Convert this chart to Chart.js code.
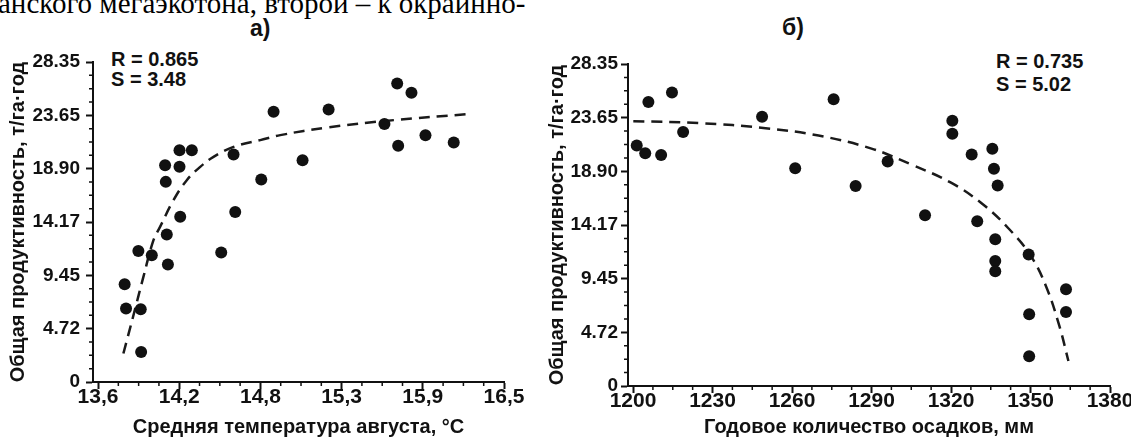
<!DOCTYPE html>
<html>
<head>
<meta charset="utf-8">
<script src="https://cdn.jsdelivr.net/npm/chart.js@4.4.1/dist/chart.umd.min.js"></script>
<style>
  body { margin: 0; width: 1131px; height: 437px; overflow: hidden; background: #fff; position: relative;
         font-family: "Liberation Sans", Arial, sans-serif; color: #111; }
  canvas { position: absolute; top: 0; }
  #left { left: 0; }
  #right { left: 546px; }
  .cut { position: absolute; left: -2px; top: -12px; font-family: "Liberation Serif", serif; font-size: 29px;
         line-height: 30px; white-space: nowrap; word-spacing: 0; color: #000; }
  .panel { position: absolute; font-weight: bold; font-size: 23px; line-height: 22px; }
  .note { position: absolute; font-weight: bold; font-size: 20px; white-space: nowrap; }
</style>
</head>
<body>
<div class="cut">анского мегаэкотона, второй – к окраинно-</div>
<div class="panel" style="left:250px;top:17px">а)</div>
<div class="panel" style="left:782px;top:16px">б)</div>
<div class="note" style="left:111px;top:50px;line-height:19.5px">R = 0.865<br>S = 3.48</div>
<div class="note" style="left:996px;top:50px;line-height:23px">R = 0.735<br>S = 5.02</div>
<canvas id="left" width="546" height="437"></canvas>
<canvas id="right" width="585" height="437"></canvas>
<script>
const INK = "#111";

// а) mean August temperature vs total productivity
const tempX = [13.79, 13.80, 13.905, 13.908, 13.888, 13.984, 14.099, 14.091, 14.187, 14.084,
               14.079, 14.182, 14.182, 14.270, 14.480, 14.580, 14.568, 14.766, 14.854, 15.061,
               15.247, 15.646, 15.737, 15.839, 15.744, 15.939, 16.141];
const tempY = [8.66, 6.51, 6.45, 2.66, 11.61, 11.23, 10.41, 13.07, 14.63, 17.73,
               19.21, 19.06, 20.54, 20.54, 11.47, 15.07, 20.16, 17.94, 23.94, 19.65,
               24.15, 22.85, 26.45, 25.62, 20.92, 21.87, 21.22];
const tempCurveX = [13.781, 13.853, 13.924, 13.996, 14.043, 14.139, 14.234,
                    14.330, 14.425, 14.568, 14.759, 14.902, 15.236, 15.712, 16.237];
const tempCurveY = [2.52, 5.91, 9.31, 12.56, 13.74, 16.11, 17.88,
                    19.06, 19.95, 20.83, 21.43, 21.87, 22.55, 23.20, 23.73];
const tempTicks = [13.6, 14.18, 14.76, 15.34, 15.92, 16.5];
const tempTickLabels = ["13,6", "14,2", "14,8", "15,3", "15,9", "16,5"];

// б) annual precipitation vs total productivity
const precX = [1201.4, 1204.6, 1205.8, 1210.6, 1214.7, 1218.9, 1248.7, 1261.2, 1275.7, 1284.0,
               1296.1, 1310.2, 1320.5, 1320.5, 1327.8, 1329.9, 1335.6, 1336.2, 1337.6, 1336.7,
               1336.7, 1336.7, 1349.3, 1349.5, 1349.5, 1363.4, 1363.4];
const precY = [21.18, 20.50, 25.00, 20.33, 25.85, 22.36, 23.71, 19.18, 25.24, 17.60,
               19.77, 15.04, 23.35, 22.21, 20.39, 14.51, 20.89, 19.12, 17.66, 12.92,
               11.01, 10.10, 11.57, 6.31, 2.61, 8.52, 6.52];
const precCurveX = [1200.1, 1225.0, 1250.0, 1270.0, 1290.0, 1305.0, 1320.0, 1332.0,
                    1342.0, 1350.0, 1356.0, 1361.0, 1364.3];
const precCurveY = [23.32, 23.15, 22.70, 22.05, 20.90, 19.50, 17.90, 16.00,
                    13.80, 11.50, 8.70, 5.20, 2.20];
const precTicks = [1200, 1230, 1260, 1290, 1320, 1350, 1380];
const precTickLabels = ["1200", "1230", "1260", "1290", "1320", "1350", "1380"];

// shared y axis
const prodTicks = [0, 4.725, 9.45, 14.175, 18.9, 23.625, 28.35];
const prodTickLabels = ["0", "4.72", "9.45", "14.17", "18.90", "23.65", "28.35"];

const zip = (xs, ys) => xs.map((x, i) => ({ x, y: ys[i] }));

// three small ticks between every pair of labelled ticks
const minorsOf = (majors) => {
  const out = [];
  for (let i = 0; i < majors.length - 1; i++) {
    const step = (majors[i + 1] - majors[i]) / 4;
    for (let k = 1; k < 4; k++) out.push(majors[i] + step * k);
  }
  return out;
};

const minorTicks = {
  id: "minorTicks",
  afterDraw(chart) {
    const { ctx } = chart;
    const xs = chart.scales.x, ys = chart.scales.y;
    ctx.save();
    ctx.strokeStyle = INK;
    ctx.lineWidth = 1.5;
    ctx.beginPath();
    for (const v of minorsOf(xs.ticks.map((t) => t.value))) {
      const px = xs.getPixelForValue(v);
      ctx.moveTo(px, xs.top);
      ctx.lineTo(px, xs.top + 4);
    }
    for (const v of minorsOf(ys.ticks.map((t) => t.value))) {
      const py = ys.getPixelForValue(v);
      ctx.moveTo(ys.right, py);
      ctx.lineTo(ys.right - 4, py);
    }
    ctx.stroke();
    ctx.restore();
  },
};

Chart.defaults.font.family = "'Liberation Sans', Arial, sans-serif";
Chart.defaults.color = INK;

const makeChart = (id, cfg) => new Chart(document.getElementById(id), {
  type: "scatter",
  data: {
    datasets: [
      {
        data: zip(cfg.px, cfg.py),
        pointRadius: 6,
        pointHoverRadius: 6,
        backgroundColor: INK,
        borderColor: INK,
        borderWidth: 0,
      },
      {
        type: "line",
        data: zip(cfg.cx, cfg.cy),
        borderColor: "#1a1a1a",
        borderWidth: 2.5,
        borderDash: [11, 7],
        pointRadius: 0,
        fill: false,
        tension: 0.4,
      },
    ],
  },
  options: {
    responsive: false,
    animation: false,
    devicePixelRatio: 1,
    layout: { padding: { left: 0, top: cfg.top, right: cfg.right, bottom: 0 } },
    plugins: { legend: { display: false }, tooltip: { enabled: false } },
    scales: {
      x: {
        type: "linear",
        min: cfg.xmin,
        max: cfg.xmax,
        afterBuildTicks: (s) => { s.ticks = cfg.xticks.map((value) => ({ value })); },
        afterFit: (s) => { s.height = cfg.xHeight; },
        ticks: {
          callback: (v, i) => cfg.xlabels[i],
          font: { size: 21, weight: "bold" },
          padding: -4,
          maxRotation: 0,
          autoSkip: false,
        },
        grid: { drawOnChartArea: false, tickLength: 7, tickWidth: 2, tickColor: INK },
        border: { color: INK, width: 2 },
        title: {
          display: true,
          text: cfg.xtitle,
          font: { size: 20, weight: "bold", lineHeight: 1 },
          padding: { top: 0, bottom: 0 },
        },
      },
      y: {
        type: "linear",
        min: 0,
        max: 28.35,
        afterBuildTicks: (s) => { s.ticks = prodTicks.map((value) => ({ value })); },
        afterFit: (s) => { s.width = cfg.yWidth; },
        ticks: {
          callback: (v, i) => prodTickLabels[i],
          font: { size: 19, weight: "bold" },
          padding: cfg.yPad,
          autoSkip: false,
        },
        grid: { drawOnChartArea: false, tickLength: 7, tickWidth: 2, tickColor: INK },
        border: { color: INK, width: 2 },
        title: {
          display: true,
          text: "Общая продуктивность, т/га·год",
          font: { size: 20, weight: "bold", lineHeight: 1 },
          padding: { top: cfg.yTitlePad, bottom: 0 },
        },
      },
    },
  },
  plugins: [minorTicks],
});

makeChart("left", {
  px: tempX, py: tempY, cx: tempCurveX, cy: tempCurveY,
  xmin: 13.564, xmax: 16.5, xticks: tempTicks, xlabels: tempTickLabels,
  xtitle: "Средняя температура августа, °С",
  top: 62, right: 42, xHeight: 55, yWidth: 93, yPad: 6, yTitlePad: 8,
});

makeChart("right", {
  px: precX, py: precY, cx: precCurveX, cy: precCurveY,
  xmin: 1198.1, xmax: 1380, xticks: precTicks, xlabels: precTickLabels,
  xtitle: "Годовое количество осадков, мм",
  top: 64, right: 21, xHeight: 51, yWidth: 82, yPad: 3, yTitlePad: 1,
});
</script>
</body>
</html>
